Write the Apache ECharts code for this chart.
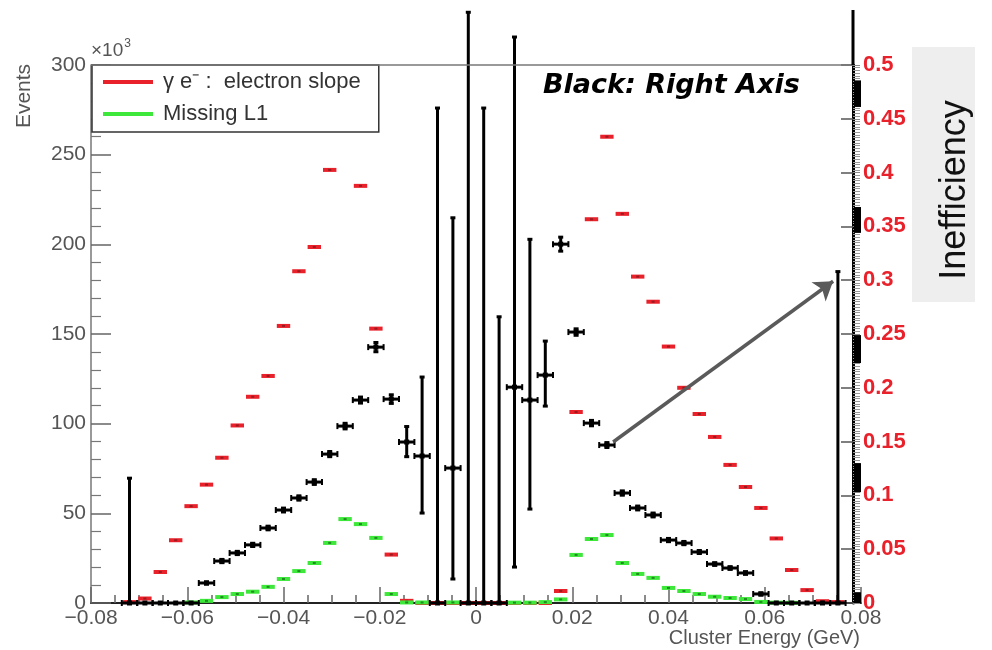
<!DOCTYPE html>
<html><head><meta charset="utf-8">
<script src="https://cdn.jsdelivr.net/npm/echarts@6/dist/echarts.min.js"></script>
<style>html,body{margin:0;padding:0;background:#fff}#c{width:992px;height:650px}</style>
</head><body><div id="c"></div>
<script>
// ---- data ----
const binCenters = [-0.0784,-0.0752,-0.072,-0.0688,-0.0656,-0.0624,-0.0592,-0.056,-0.0528,-0.0496,
  -0.0464,-0.0432,-0.04,-0.0368,-0.0336,-0.0304,-0.0272,-0.024,-0.0208,-0.0176,
  -0.0144,-0.0112,-0.008,-0.0048,-0.0016,0.0016,0.0048,0.008,0.0112,0.0144,
  0.0176,0.0208,0.024,0.0272,0.0304,0.0336,0.0368,0.04,0.0432,0.0464,
  0.0496,0.0528,0.056,0.0592,0.0624,0.0656,0.0688,0.072,0.0752,0.0784];
const binWidth = 0.0032;
// Events (x10^3)
const electronSlope = [null,null,0.5,2.5,17.3,35,54,66,81,99,
  115,126.6,154.5,185,198.5,241.5,null,232.6,153,27,
  1.2,0,0,0,0,0,0,0,0,0,
  6.7,106.5,214,260,217,182,168,143,120,105.4,
  92.6,77,64.7,53,36,18.4,7.2,1,0.5,null];
const missingL1 = [null,null,null,null,null,null,0.3,1.2,3.3,5,
  6.3,9,13.4,17.8,22.3,33.5,46.8,44,36.3,5,
  0.3,0.3,null,0.3,null,null,null,0.2,0.2,0.5,
  2,26.8,35.7,37.9,22.3,16.2,14,8.4,6.7,5,
  3.5,2.8,2.2,0.6,0.2,0.1,null,null,null,null];
// Inefficiency (right axis)
const ineffValue = [null,null,0,0,0,0,0,0.0186,0.039,0.0465,
  0.054,0.0697,0.0864,0.0976,0.1124,0.1384,0.1644,0.1886,0.2378,0.1895,
  0.1496,0.1366,0,0.1254,0,0,0,0.2006,0.1886,0.2118,
  0.3335,0.2518,0.1672,0.1468,0.1022,0.0883,0.0818,0.0585,0.0557,0.0474,
  0.0362,0.0325,0.0279,0.0084,0,0,0,0,0,null];
const ineffLow = [null,null,0,0,0,0,0,0.0176,0.0375,0.045,
  0.0525,0.068,0.0846,0.0956,0.1102,0.136,0.1618,0.1858,0.2335,0.1855,
  0.136,0.0836,0,0.0223,0,0,0,0.0334,0.0873,0.183,
  0.327,0.2488,0.1647,0.1445,0.1002,0.0865,0.08,0.057,0.0542,0.046,
  0.035,0.0313,0.0267,0.0074,0,0,0,0,0,null];
const ineffHigh = [null,null,0.116,0,0,0,0,0.0196,0.0405,0.048,
  0.0555,0.0714,0.0882,0.0996,0.1146,0.1408,0.167,0.1914,0.2421,0.1935,
  0.164,0.21,0.46,0.358,0.549,0.46,0.266,0.526,0.338,0.2434,
  0.34,0.2548,0.1697,0.1491,0.1042,0.0901,0.0836,0.06,0.0572,0.0488,
  0.0374,0.0337,0.0291,0.0094,0,0,0,0,0.308,null];
const arrowCoords = [[0.0285,0.1496],[0.0742,0.299]];
const xAxisRange = [-0.08, 0.08, 0.02];
const leftAxisRange = [0, 300, 50];
const rightAxisRange = [0, 0.5, 0.05];
const seriesNames = ['γ e⁻ :  electron slope', 'Missing L1'];
// decorative dark blocks on the right-axis tick band (right-axis units)
const bandBlocks = [[0.461,0.4857],[0.344,0.368],[0.223,0.249],[0.103,0.130],[0,0.010]];

const RED = '#e8212b', GREEN = '#3ee83a';

function dashRender(color, centerColor) {
  return function (params, api) {
    const x = api.value(0), v = api.value(1);
    const a = api.coord([x - binWidth / 2, v]);
    const b = api.coord([x + binWidth / 2, v]);
    return { type: 'group', children: [
      { type: 'rect', shape: { x: a[0] + 1, y: a[1] - 2, width: b[0] - a[0] - 2, height: 4 }, style: { fill: color } },
      { type: 'rect', shape: { x: (a[0] + b[0]) / 2 - 1.5, y: a[1] - 1, width: 3, height: 2 }, style: { fill: centerColor } }
    ]};
  };
}
function blackRender(params, api) {
  const x = api.value(0), v = api.value(1), lo = api.value(2), hi = api.value(3);
  const a = api.coord([x - binWidth / 2, v]);
  const b = api.coord([x + binWidth / 2, v]);
  const pl = api.coord([x, lo]), ph = api.coord([x, hi]);
  const cx = (a[0] + b[0]) / 2;
  const st = { stroke: '#000', lineWidth: 3 };
  const ch = [
    { type: 'line', shape: { x1: a[0], y1: a[1], x2: b[0], y2: b[1] }, style: st },
    { type: 'line', shape: { x1: a[0], y1: a[1] - 3, x2: a[0], y2: a[1] + 3 }, style: { stroke: '#000', lineWidth: 2 } },
    { type: 'line', shape: { x1: b[0], y1: b[1] - 3, x2: b[0], y2: b[1] + 3 }, style: { stroke: '#000', lineWidth: 2 } },
    { type: 'rect', shape: { x: cx - 2.5, y: a[1] - 2.5, width: 5, height: 5 }, style: { fill: '#000' } }
  ];
  if (ph[1] < pl[1] - 1) {
    ch.push({ type: 'line', shape: { x1: cx, y1: pl[1], x2: cx, y2: ph[1] }, style: st });
    ch.push({ type: 'line', shape: { x1: cx - 2.5, y1: ph[1], x2: cx + 2.5, y2: ph[1] }, style: st });
    ch.push({ type: 'line', shape: { x1: cx - 2.5, y1: pl[1], x2: cx + 2.5, y2: pl[1] }, style: st });
  }
  return { type: 'group', children: ch };
}

const redData = [], greenData = [], blackData = [];
binCenters.forEach((x, i) => {
  if (electronSlope[i] != null) redData.push([x, electronSlope[i]]);
  if (missingL1[i] != null) greenData.push([x, missingL1[i]]);
  if (ineffValue[i] != null) blackData.push([x, ineffValue[i], ineffLow[i], ineffHigh[i]]);
});

const FONT = 'Liberation Sans, Arial, sans-serif';
const chart = echarts.init(document.getElementById('c'), null, { renderer: 'canvas' });
const option = {
  animation: false,
  backgroundColor: '#fff',
  grid: { left: 91, right: 131, top: 65, bottom: 47 },
  legend: {
    orient: 'vertical', left: 92, top: 65,
    padding: [5, 18, 6, 11], itemGap: 8,
    borderColor: '#333', borderWidth: 1.5, backgroundColor: '#fff',
    itemWidth: 50, itemHeight: 4,
    textStyle: { fontFamily: FONT, fontSize: 22, color: '#333', padding: [0, 0, 0, 5], lineHeight: 24 },
    data: [
      { name: seriesNames[0], icon: 'rect', itemStyle: { color: RED } },
      { name: seriesNames[1], icon: 'rect', itemStyle: { color: GREEN } }
    ]
  },
  xAxis: {
    type: 'value', min: xAxisRange[0], max: xAxisRange[1], interval: xAxisRange[2],
    axisLine: { show: true, onZero: false, lineStyle: { color: '#222', width: 2 } },
    axisTick: { show: true, inside: true, length: 16, lineStyle: { color: '#666', width: 1.5 } },
    minorTick: { show: true, splitNumber: 4, length: 8, lineStyle: { color: '#666', width: 1.5 } },
    axisLabel: { color: '#555', fontSize: 21, fontFamily: FONT, margin: 5,
      formatter: v => String(Math.round(v * 100) / 100).replace('-', '−') },
    splitLine: { show: false }
  },
  yAxis: [
    { type: 'value', position: 'left', min: leftAxisRange[0], max: leftAxisRange[1], interval: leftAxisRange[2],
      axisLine: { show: true, onZero: false, lineStyle: { color: '#777', width: 1.5 } },
      axisTick: { show: true, inside: true, length: 20, lineStyle: { color: '#666', width: 1.5 } },
      minorTick: { show: true, splitNumber: 5, length: 10, lineStyle: { color: '#777', width: 1.2 } },
      axisLabel: { color: '#555', fontSize: 21, fontFamily: FONT, margin: 5 },
      splitLine: { show: false } },
    { type: 'value', position: 'right', offset: -8, min: rightAxisRange[0], max: rightAxisRange[1], interval: rightAxisRange[2],
      axisLine: { show: true, onZero: false, lineStyle: { color: '#000', width: 3 } },
      axisTick: { show: true, inside: true, length: 12, lineStyle: { color: '#555', width: 1.5 } },
      axisLabel: { color: RED, fontSize: 22, fontWeight: 'bold', fontFamily: FONT, margin: 10 },
      splitLine: { show: false } },
    { type: 'value', position: 'right', offset: -8, min: rightAxisRange[0], max: rightAxisRange[1], interval: rightAxisRange[2],
      axisLine: { show: false, onZero: false },
      axisTick: { show: true, inside: false, length: 7, lineStyle: { color: '#888', width: 1 } },
      minorTick: { show: true, splitNumber: 20, length: 7, lineStyle: { color: '#999', width: 1 } },
      axisLabel: { show: false }, splitLine: { show: false } }
  ],
  series: [
    { name: seriesNames[0], type: 'custom', xAxisIndex: 0, yAxisIndex: 0, clip: false,
      itemStyle: { color: RED }, renderItem: dashRender(RED, '#9a1a20'), data: redData },
    { name: seriesNames[1], type: 'custom', xAxisIndex: 0, yAxisIndex: 0, clip: false,
      itemStyle: { color: GREEN }, renderItem: dashRender(GREEN, '#1f8a1f'), data: greenData },
    { name: 'Inefficiency', type: 'custom', xAxisIndex: 0, yAxisIndex: 1, clip: false, z: 3,
      itemStyle: { color: '#000' }, renderItem: blackRender, data: blackData },
    { type: 'lines', coordinateSystem: 'cartesian2d', xAxisIndex: 0, yAxisIndex: 1, z: 5, silent: true,
      symbol: ['none', 'arrow'], symbolSize: [0, 18],
      lineStyle: { color: '#5a5a5a', width: 3.5, opacity: 1, curveness: 0 },
      data: [{ coords: arrowCoords }] }
  ]
};
chart.setOption(option);

// decorations positioned from the axes
const pTopL = chart.convertToPixel({ xAxisIndex: 0, yAxisIndex: 0 }, [xAxisRange[0], leftAxisRange[1]]);
const pBot = chart.convertToPixel({ xAxisIndex: 0, yAxisIndex: 0 }, [xAxisRange[1], leftAxisRange[0]]);
const rightX = pBot[0] - 8;
const gfx = [
  { type: 'line', z: 10, shape: { x1: pTopL[0], y1: pTopL[1], x2: rightX, y2: pTopL[1] }, style: { stroke: '#777', lineWidth: 1.5 } },
  { type: 'line', z: 10, shape: { x1: rightX, y1: 10, x2: rightX, y2: pTopL[1] }, style: { stroke: '#000', lineWidth: 3 } },
  { type: 'text', left: 91, top: 38, style: { text: '{a|×10}{s|3}', rich: {
      a: { fontSize: 19, fontFamily: FONT, fill: '#555', verticalAlign: 'bottom' },
      s: { fontSize: 12, fontFamily: FONT, fill: '#555', verticalAlign: 'top', padding: [0, 0, 10, 1] } } } },
  { type: 'text', x: 24, y: 96, rotation: Math.PI / 2, style: { text: 'Events', fontSize: 21, fontFamily: FONT, fill: '#555', align: 'center', verticalAlign: 'middle' } },
  { type: 'text', x: 860, y: 638, style: { text: 'Cluster Energy (GeV)', fontSize: 20, fontFamily: FONT, fill: '#555', align: 'right', verticalAlign: 'middle' } },
  { type: 'text', x: 543, y: 86, style: { text: 'Black: Right Axis', fontSize: 27, fontFamily: 'DejaVu Sans, sans-serif', fontWeight: 'bold', fontStyle: 'italic', fill: '#000', align: 'left', verticalAlign: 'middle' } },
  { type: 'rect', shape: { x: 912, y: 47, width: 63, height: 255 }, style: { fill: '#eeeeee' } },
  { type: 'text', x: 955, y: 190, rotation: Math.PI / 2, style: { text: 'Inefficiency', fontSize: 36, fontFamily: FONT, fill: '#111', align: 'center', verticalAlign: 'middle' } }
];
bandBlocks.forEach(bk => {
  const a = chart.convertToPixel({ xAxisIndex: 0, yAxisIndex: 1 }, [0, bk[1]]);
  const b = chart.convertToPixel({ xAxisIndex: 0, yAxisIndex: 1 }, [0, bk[0]]);
  gfx.push({ type: 'rect', z: 10, shape: { x: rightX + 1, y: a[1], width: 7, height: b[1] - a[1] }, style: { fill: '#000' } });
});
chart.setOption({ graphic: gfx });
</script></body></html>
